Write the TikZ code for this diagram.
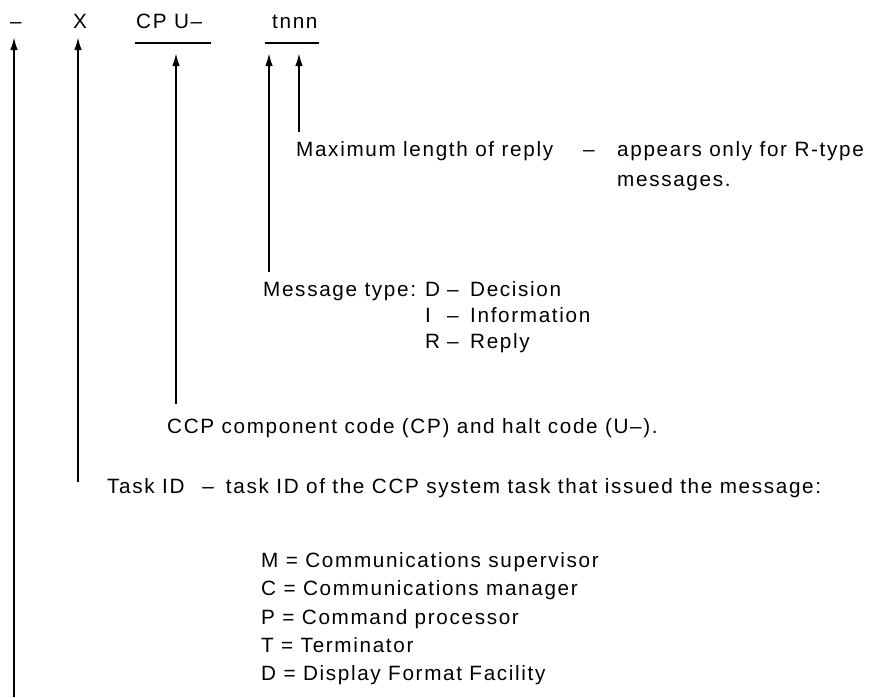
\documentclass[tikz,border=0pt]{standalone}
\usepackage{fontspec}
\setmainfont{Liberation Sans}[LetterSpace=8]
\usetikzlibrary{arrows.meta}
\begin{document}
\begin{tikzpicture}[x=1pt,y=-1pt,
  txt/.style={anchor=base west,inner sep=0pt,font=\fontsize{20.7pt}{24pt}\selectfont},
  arr/.style={line width=1.9pt,-{Latex[length=13pt,width=7.5pt]}},
  uline/.style={line width=1.9pt}]
\useasboundingbox (0,0) rectangle (872,697);
% top row
\node[txt,anchor=base] (dsh) at (16,28) {–};
\node[txt,anchor=base] (xx) at (80,28) {X};
\node[txt] (cpu) at (136,28) {CP U–};
\node[txt] (tn) at (272,28) {tnnn};
\draw[uline] (135,43) -- (211,43);
\draw[uline] (265,43) -- (319,43);
% arrow feet
\coordinate (e1) at (14,697);
\coordinate (e2) at (78,482);
\coordinate (e3) at (176,404);
\coordinate (e4) at (269,272);
\coordinate (e5) at (299,132);
\draw[arr,shorten >=9pt] (e1) -- (e1 |- dsh.base);
\draw[arr,shorten >=9pt] (e2) -- (e2 |- xx.base);
\draw[arr,shorten >=25pt] (e3) -- (e3 |- cpu.base);
\draw[arr,shorten >=25pt] (e4) -- (e4 |- tn.base);
\draw[arr,shorten >=25pt] (e5) -- (e5 |- tn.base);
% maximum length
\node[txt] (maxl) at (296,156) {Maximum length of reply};
\node[txt] (mdash) at (583,156) {–};
\node[txt] (app) at (617,156) {appears only for R-type};
\node[txt] (msgs) at (617,186) {messages.};
% message type
\node[txt] (mtype) at (263,296) {Message type:};
\node[txt] (tD) at (425,296) {D};
\node[txt] (dD) at (447,296) {–};
\node[txt] (wD) at (470,296) {Decision};
\node[txt] (tI) at (425,322) {I};
\node[txt] (dI) at (447,322) {–};
\node[txt] (wI) at (470,322) {Information};
\node[txt] (tR) at (425,348) {R};
\node[txt] (dR) at (447,348) {–};
\node[txt] (wR) at (470,348) {Reply};
% CCP
\node[txt] (ccp) at (167,433) {CCP component code (CP) and halt code (U–).};
% task
\node[txt] (task) at (107,493) {Task ID\hspace{18pt}–\hspace{12pt}task ID of the CCP system task that issued the message:};
\node[txt] (lM) at (261,567) {M = Communications supervisor};
\node[txt] (lC) at (261,595) {C = Communications manager};
\node[txt] (lP) at (261,624) {P = Command processor};
\node[txt] (lT) at (261,652) {T = Terminator};
\node[txt] (lD) at (261,680) {D = Display Format Facility};
\end{tikzpicture}
\end{document}
